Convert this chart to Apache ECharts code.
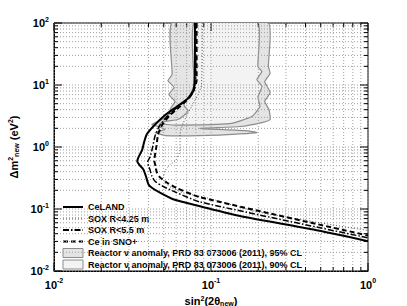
<!DOCTYPE html>
<html><head><meta charset="utf-8">
<script src="https://cdn.jsdelivr.net/npm/echarts/dist/echarts.min.js"></script>
<style>html,body{margin:0;padding:0;background:#fff}#c{width:407px;height:306px}</style>
</head><body><div id="c"></div>
<script>
// ---- data ----
const celandX = [0.079, 0.079, 0.0785, 0.077, 0.072, 0.061, 0.050, 0.043, 0.039, 0.0375, 0.0365, 0.0345, 0.0339, 0.0349, 0.0371, 0.0385, 0.040, 0.042, 0.047, 0.058, 0.085, 0.155, 0.449, 1.0];
const celandY = [100, 20, 10.8, 7.9, 6.2, 4.55, 3.14, 2.16, 1.6, 1.2, 0.91, 0.68, 0.59, 0.52, 0.434, 0.338, 0.248, 0.220, 0.185, 0.142, 0.111, 0.0766, 0.0467, 0.0303];
const sox425X = [0.088, 0.087, 0.0827, 0.0753, 0.0666, 0.0635, 0.0635, 0.0605, 0.0548, 0.0509, 0.0497, 0.0509, 0.0562, 0.0666, 0.094, 0.205, 1.0];
const sox425Y = [100, 10, 7.0, 4.55, 2.45, 1.59, 0.91, 0.63, 0.52, 0.41, 0.32, 0.265, 0.22, 0.182, 0.152, 0.088, 0.045];
const sox55X = [0.080, 0.080, 0.0775, 0.072, 0.062, 0.053, 0.047, 0.044, 0.0425, 0.041, 0.0395, 0.040, 0.041, 0.042, 0.044, 0.049, 0.060, 0.085, 1.0];
const sox55Y = [100, 12, 8.5, 6.2, 4.5, 3.2, 2.2, 1.5, 1.0, 0.7, 0.58, 0.5, 0.42, 0.34, 0.28, 0.235, 0.185, 0.13, 0.0343];
const snoX = [0.081, 0.081, 0.078, 0.073, 0.064, 0.055, 0.049, 0.046, 0.045, 0.044, 0.0435, 0.0445, 0.045, 0.047, 0.052, 0.060, 0.085, 1.0];
const snoY = [100, 12, 8.5, 6.3, 4.6, 3.3, 2.3, 1.6, 1.05, 0.75, 0.6, 0.48, 0.4, 0.33, 0.27, 0.22, 0.155, 0.0374];
// reactor anomaly 95% CL contour (outer)
const ra95X = [0.0565, 0.0565, 0.0532, 0.0581, 0.054, 0.059, 0.0557, 0.0532, 0.0473, 0.042, 0.0459, 0.0509, 0.044, 0.0509, 0.114, 0.196, 0.165, 0.085, 0.153, 0.211, 0.238, 0.234, 0.22, 0.238, 0.22, 0.238, 0.232, 0.232];
const ra95Y = [100, 14.8, 11.8, 9.12, 7.03, 5.42, 4.33, 3.22, 2.67, 2.31, 2.14, 1.91, 1.71, 1.53, 1.56, 1.71, 1.84, 1.99, 2.14, 2.48, 2.78, 4.03, 5.42, 7.6, 11.3, 15.4, 19.9, 100];
// reactor anomaly 90% CL contour (inner)
const ra90X = [0.078, 0.078, 0.0735, 0.0693, 0.0673, 0.0715, 0.066, 0.0616, 0.0509, 0.0473, 0.059, 0.132, 0.182, 0.205, 0.199, 0.211, 0.196, 0.211, 0.199, 0.199];
const ra90Y = [100, 10.2, 7.03, 5.83, 4.65, 3.87, 3.1, 2.78, 2.58, 2.38, 2.26, 2.38, 3.1, 4.5, 6.4, 9.5, 12.3, 16.5, 19.9, 100];
const xMinor = [0.02,0.03,0.04,0.05,0.06,0.07,0.08,0.09,0.2,0.3,0.4,0.5,0.6,0.7,0.8,0.9];
const yMinor = [0.02,0.03,0.04,0.05,0.06,0.07,0.08,0.09,0.2,0.3,0.4,0.5,0.6,0.7,0.8,0.9,2,3,4,5,6,7,8,9,20,30,40,50,60,70,80,90];
const xMajor = [0.01, 0.1, 1];
const yMajor = [0.01, 0.1, 1, 10, 100];
const legendNames = ['CeLAND', 'SOX R<4.25 m', 'SOX R<5.5 m', 'Ce in SNO+',
  'Reactor \u03bd anomaly, PRD 83 073006 (2011), 95% CL',
  'Reactor \u03bd anomaly, PRD 83 073006 (2011), 90% CL'];

const zip = (a, b) => a.map((v, i) => [v, b[i]]);
const FONT = 'Liberation Sans';
const XMIN = 0.01, XMAX = 1, YMIN = 0.01, YMAX = 100;
const FILL95 = '#e4e4e4', FILL90 = '#f3f3f3', EDGE = '#8c8c8c';

function expLabel(v) {
  const e = Math.round(Math.log10(v));
  return '{b|10}{e|' + e + '}';
}
const labelRich = {
  b: {fontFamily: FONT, fontWeight: 'bold', fontSize: 11, color: '#000'},
  e: {fontFamily: FONT, fontWeight: 'bold', fontSize: 7, color: '#000', padding: [0, 0, 8, 0]}
};

function polygonSeries(name, xs, ys, fill, z) {
  return {
    name: name, type: 'custom', z: z,
    itemStyle: {color: fill, borderColor: EDGE, borderWidth: 1},
    data: [[xs[0], ys[0]]],
    clip: true,
    renderItem: function (params, api) {
      const pts = xs.map((x, i) => api.coord([x, ys[i]]));
      return {type: 'polygon', shape: {points: pts, smooth: 0.15},
        style: {fill: fill, stroke: EDGE, lineWidth: 1.2}};
    }
  };
}

function gridSeries(vals, dir) {
  return {
    type: 'custom', silent: true, z: 4, legendHoverLink: false,
    data: vals.map(v => dir === 'x' ? [v, YMIN] : [XMIN, v]),
    renderItem: function (params, api) {
      const v = api.value(dir === 'x' ? 0 : 1);
      let a, b;
      if (dir === 'x') { a = api.coord([v, YMIN]); b = api.coord([v, YMAX]); }
      else { a = api.coord([XMIN, v]); b = api.coord([XMAX, v]); }
      const minor = (dir === 'x' ? xMinor : yMinor).indexOf(v) >= 0;
      const children = [{type: 'line', shape: {x1: a[0], y1: a[1], x2: b[0], y2: b[1]},
        style: {stroke: '#a0a0a0', lineWidth: 1, lineDash: [1, 2]}}];
      const L = minor ? 4 : 8;
      if (dir === 'x') {
        children.push({type: 'line', shape: {x1: a[0], y1: a[1], x2: a[0], y2: a[1] - L}, style: {stroke: '#000', lineWidth: 1}});
        children.push({type: 'line', shape: {x1: b[0], y1: b[1], x2: b[0], y2: b[1] + L}, style: {stroke: '#000', lineWidth: 1}});
      } else {
        children.push({type: 'line', shape: {x1: a[0], y1: a[1], x2: a[0] + L, y2: a[1]}, style: {stroke: '#000', lineWidth: 1}});
        children.push({type: 'line', shape: {x1: b[0], y1: b[1], x2: b[0] - L, y2: b[1]}, style: {stroke: '#000', lineWidth: 1}});
      }
      return {type: 'group', children: children};
    }
  };
}

const chart = echarts.init(document.getElementById('c'), null, {renderer: 'svg'});
const lineCommon = {type: 'line', showSymbol: false, symbol: 'none', z: 5, clip: true, smooth: 0.2,
  itemStyle: {color: 'rgba(0,0,0,0)', opacity: 0}};
chart.setOption({
  animation: false,
  backgroundColor: '#fff',
  grid: {left: 54, right: 39, top: 23, bottom: 35, outerBoundsMode: 'none', containLabel: false,
    show: true, borderColor: '#000', borderWidth: 1, backgroundColor: 'transparent'},
  legend: {
    orient: 'vertical', left: 57, top: 197, itemWidth: 20, itemHeight: 9, itemGap: 1.5,
    textStyle: {fontFamily: FONT, fontWeight: 'bold', fontSize: 9, color: '#000', lineHeight: 10},
    data: legendNames.map((n, i) => i < 4 ? {name: n, itemStyle: {opacity: 0}} :
      {name: n, icon: 'rect', itemStyle: {color: i === 4 ? FILL95 : FILL90, borderColor: EDGE, borderWidth: 1, opacity: 1}}),
    selectedMode: false
  },
  xAxis: {
    type: 'log', logBase: 10, min: XMIN, max: XMAX,
    axisLine: {lineStyle: {color: '#000', width: 1}},
    axisTick: {show: false},
    splitLine: {show: false},
    axisLabel: {formatter: expLabel, rich: labelRich, margin: 6},
    name: 'sin{s|2}(2\u03b8{u|new})', nameLocation: 'middle', nameGap: 12,
    nameTextStyle: {fontFamily: FONT, fontWeight: 'bold', fontSize: 11, color: '#000', lineHeight: 12,
      rich: {s: {fontFamily: FONT, fontWeight: 'bold', fontSize: 7, padding: [0, 0, 6, 0]},
             u: {fontFamily: FONT, fontWeight: 'bold', fontSize: 7, padding: [4, 0, 0, 0]}}}
  },
  yAxis: {
    type: 'log', logBase: 10, min: YMIN, max: YMAX,
    axisLine: {show: true, lineStyle: {color: '#000', width: 1}},
    axisTick: {show: false},
    splitLine: {show: false},
    axisLabel: {formatter: expLabel, rich: labelRich, margin: 5},
    name: '\u0394m{s|2}{u|new} (eV{s|2})', nameLocation: 'middle', nameGap: 30, nameRotate: 90,
    nameTextStyle: {fontFamily: FONT, fontWeight: 'bold', fontSize: 11, color: '#000',
      rich: {s: {fontFamily: FONT, fontWeight: 'bold', fontSize: 7, padding: [0, 0, 7, 0]},
             u: {fontFamily: FONT, fontWeight: 'bold', fontSize: 7, padding: [5, 0, 0, 0]}}}
  },
  series: [
    polygonSeries(legendNames[4], ra95X, ra95Y, FILL95, 2),
    polygonSeries(legendNames[5], ra90X, ra90Y, FILL90, 3),
    gridSeries(xMinor.concat(xMajor), 'x'),
    gridSeries(yMinor.concat(yMajor), 'y'),
    Object.assign({}, lineCommon, {name: legendNames[1], data: zip(sox425X, sox425Y),
      lineStyle: {color: '#555', width: 1, type: [1, 2]}}),
    Object.assign({}, lineCommon, {name: legendNames[2], data: zip(sox55X, sox55Y),
      lineStyle: {color: '#000', width: 1.5, type: [6, 2, 1.5, 2]}}),
    Object.assign({}, lineCommon, {name: legendNames[3], data: zip(snoX, snoY),
      lineStyle: {color: '#000', width: 2, type: [5, 3]}}),
    Object.assign({}, lineCommon, {name: legendNames[0], data: zip(celandX, celandY),
      lineStyle: {color: '#000', width: 2}})
  ]
});
</script></body></html>
